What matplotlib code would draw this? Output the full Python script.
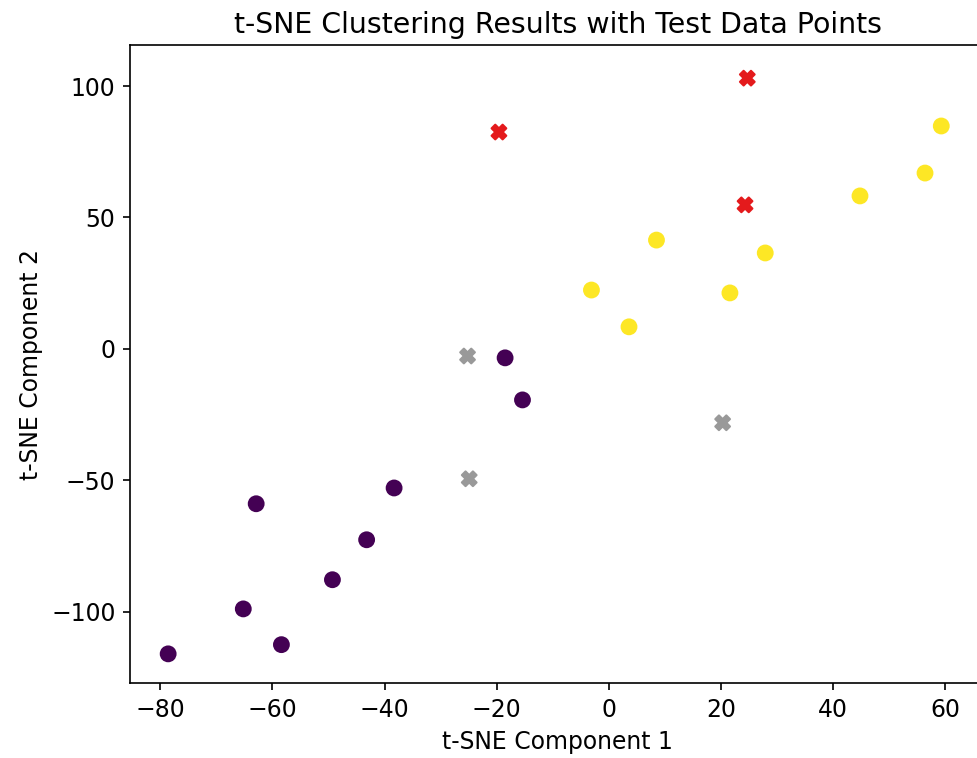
import matplotlib
matplotlib.use('Agg')
import matplotlib.pyplot as plt
import numpy as np

# Training points (t-SNE embedding) and their cluster labels
train_x = [-78.6, -65.2, -58.4, -62.9, -49.3, -43.2, -38.3, -18.5, -15.4,
           -3.1, 3.6, 8.5, 21.6, 27.9, 44.8, 56.4, 59.3]
train_y = [-116.0, -98.9, -112.5, -58.9, -87.8, -72.6, -52.9, -3.4, -19.4,
           22.4, 8.4, 41.4, 21.3, 36.5, 58.2, 66.9, 84.8]
train_labels = [0, 0, 0, 0, 0, 0, 0, 0, 0,
                1, 1, 1, 1, 1, 1, 1, 1]

# Test points and their predicted clusters
test_x = [-19.6, 24.7, 24.3, -25.2, -24.9, 20.3]
test_y = [82.5, 103.0, 54.8, -2.7, -49.4, -28.1]
test_labels = [0, 0, 0, 1, 1, 1]

plt.rcParams['font.size'] = 11.3
plt.rcParams['axes.titlesize'] = 13.6

dpi = 150
fig = plt.figure(figsize=(977 / dpi, 758 / dpi), dpi=dpi)
# right spine falls just outside the picture, as in the cropped original
ax = fig.add_axes([0.1331, 0.0989, 0.8751, 0.8417])

ax.scatter(train_x, train_y, c=train_labels, cmap='viridis', s=50)
ax.scatter(test_x, test_y, c=test_labels, cmap='Set1', marker='X', s=50)

ax.set_xlim(-85.4, 67.1)
ax.set_ylim(-127.1, 115.6)
ax.set_xticks(np.arange(-80, 61, 20))
ax.set_yticks(np.arange(-100, 101, 50))

ax.set_title('t-SNE Clustering Results with Test Data Points')
ax.set_xlabel('t-SNE Component 1')
ax.set_ylabel('t-SNE Component 2')

fig.savefig('out.png', dpi=dpi)
